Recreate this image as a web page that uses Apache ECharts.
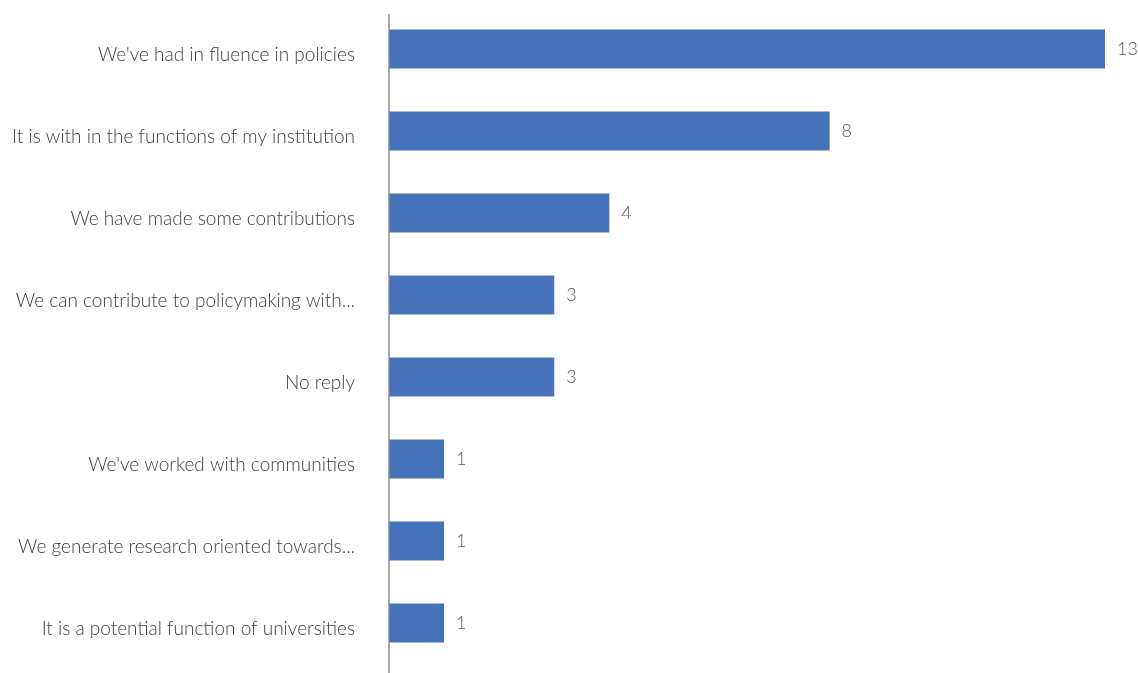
<!DOCTYPE html>
<html>
<head>
<meta charset="utf-8">
<script src="https://cdn.jsdelivr.net/npm/echarts@6/dist/echarts.min.js"></script>
<style>
  html, body { margin: 0; padding: 0; background: #ffffff; }
  #chart { width: 1138px; height: 673px; }
</style>
</head>
<body>
<div id="chart"></div>
<script>
// Responses, listed top to bottom
const categories = [
  "We've had in fluence in policies",
  "It is with in the functions of my institution",
  "We have made some contributions",
  "We can contribute to policymaking with...",
  "No reply",
  "We've worked with communities",
  "We generate research oriented towards...",
  "It is a potential function of universities"
];
const counts = [13, 8, 4, 3, 3, 1, 1, 1];

const chart = echarts.init(document.getElementById('chart'), null, { renderer: 'canvas' });

chart.setOption({
  animation: false,
  backgroundColor: '#ffffff',
  grid: { left: 389, right: 33, top: 8, bottom: 9, containLabel: false },
  xAxis: {
    type: 'value',
    min: 0,
    max: 13,
    show: false
  },
  yAxis: {
    type: 'category',
    data: categories,
    inverse: true,
    axisLine: { show: false },
    axisTick: { show: false },
    splitLine: { show: false },
    axisLabel: {
      margin: 34,
      color: '#404040',
      fontFamily: 'Lato',
      fontWeight: 300,
      fontSize: 19,
      verticalAlign: 'top',
      lineHeight: 12
    }
  },
  series: [{
    type: 'bar',
    data: counts,
    barWidth: 39,
    itemStyle: { color: '#4672B9' },
    label: {
      show: true,
      position: 'right',
      distance: 12,
      color: '#595959',
      fontFamily: 'Lato',
      fontWeight: 300,
      fontSize: 18
    }
  }],
  graphic: [{
    type: 'line',
    shape: { x1: 389, y1: 14, x2: 389, y2: 673 },
    style: { stroke: '#8c8c8c', lineWidth: 1.5 },
    z: 10
  }]
});
</script>
</body>
</html>
